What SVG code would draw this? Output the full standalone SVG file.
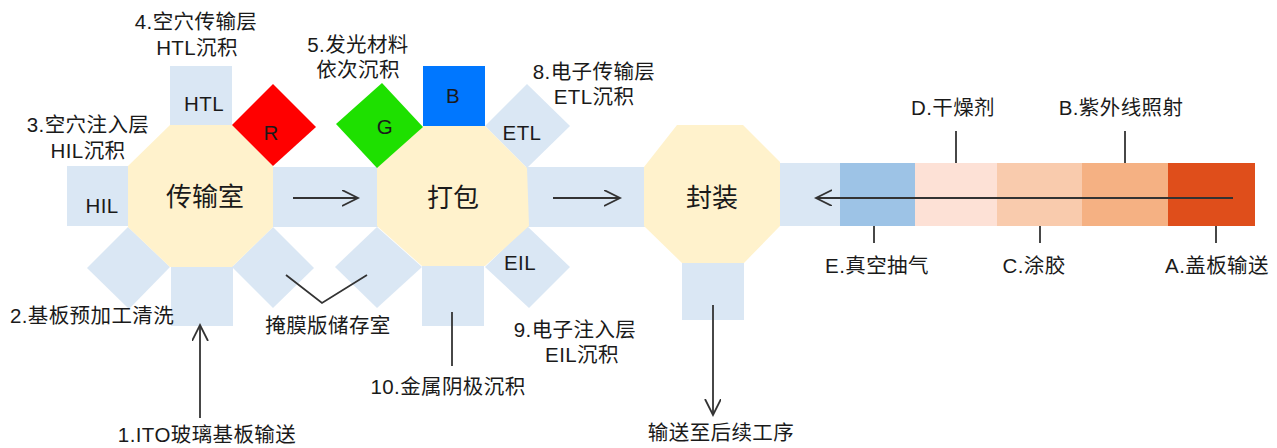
<svg xmlns="http://www.w3.org/2000/svg" width="1277" height="448" viewBox="0 0 1277 448">
<style>
.lb{fill:#dae7f4}
.oc{fill:#fff2cc}
text{font-family:"Liberation Sans","Noto Sans CJK SC",sans-serif;fill:#1a1a1a;dominant-baseline:central;text-anchor:middle}
.t{font-size:20.5px;letter-spacing:0.4px}
.big{font-size:26px}
.ln{stroke:#333;stroke-width:1.8;fill:none}
</style>
<defs>
<marker id="ah" markerWidth="20" markerHeight="20" refX="16" refY="8" orient="auto" markerUnits="userSpaceOnUse">
<path d="M0,0 L16,8 L0,16" fill="none" stroke="#333" stroke-width="1.8"/>
</marker>
</defs>
<rect width="1277" height="448" fill="#fff"/>

<g id="corridors">
<rect class="lb" x="265" y="167" width="120" height="60"/>
<rect class="lb" x="520" y="167" width="130" height="60"/>
</g>

<g id="node-HIL">
<rect class="lb" x="67" y="166" width="70" height="60"/>
<text class="t" x="102" y="205">HIL</text>
</g>
<g id="node-HTL">
<rect class="lb" x="170" y="66" width="62" height="64"/>
<text class="t" x="204" y="103">HTL</text>
</g>
<g id="node-clean">
<rect class="lb" x="171" y="260" width="62" height="66"/>
<polygon class="lb" points="128,227 87,268 129,309 170,267"/>
</g>
<g id="node-mask">
<polygon class="lb" points="232,267 273,227 314,268 273,308"/>
<polygon class="lb" points="377,227 335,267 377,308 422,267"/>
</g>
<g id="node-cathode">
<rect class="lb" x="422" y="260" width="62" height="66"/>
</g>
<g id="node-ETL">
<polygon class="lb" points="485,126 527,84 570,126 527,168"/>
<text class="t" x="522" y="132">ETL</text>
</g>
<g id="node-EIL">
<polygon class="lb" points="527,226 570,267 529,308 485,267"/>
<text class="t" x="520" y="262">EIL</text>
</g>
<g id="node-out">
<rect class="lb" x="682" y="256" width="62" height="64"/>
</g>

<g id="node-transfer">
<polygon class="oc" points="170,125 232,125 273,166 273,227 232,267 170,267 128,227 128,166"/>
<text class="big" x="205" y="197">传输室</text>
</g>
<g id="node-pack">
<polygon class="oc" points="423,126 485,126 527,168 529,226 485,266 422,266 377,226 377,168"/>
<text class="big" x="453" y="198">打包</text>
</g>
<g id="node-encap">
<polygon class="oc" points="677,125 743,125 780,162 780,226 744,263 682,263 644,226 644,167"/>
<text class="big" x="712" y="198">封装</text>
</g>

<g id="node-R">
<polygon fill="#ff0000" points="232,125 273,84 316,127 273,166"/>
<text class="t" x="271" y="132">R</text>
</g>
<g id="node-G">
<polygon fill="#1ee000" points="423,127 382,83 336,124 377,168"/>
<text class="t" x="385" y="126">G</text>
</g>
<g id="node-B">
<rect fill="#0077ff" x="423" y="66" width="62" height="60"/>
<text class="t" x="453" y="95">B</text>
</g>

<g id="node-strip">
<rect class="lb" x="780" y="163" width="61" height="63"/>
<rect fill="#9dc3e6" x="840" y="163" width="76" height="63"/>
<rect fill="#fde1d6" x="915" y="163" width="83" height="63"/>
<rect fill="#f9cbad" x="997" y="163" width="86" height="63"/>
<rect fill="#f5b183" x="1082" y="163" width="87" height="63"/>
<rect fill="#df4e1b" x="1168" y="163" width="87" height="63"/>
</g>

<g id="connectors">
<line class="ln" x1="293" y1="198" x2="358" y2="198" marker-end="url(#ah)"/>
<line class="ln" x1="553" y1="198" x2="620" y2="198" marker-end="url(#ah)"/>
<line class="ln" x1="1233" y1="198" x2="816" y2="198" marker-end="url(#ah)"/>
<line class="ln" x1="200" y1="418" x2="200" y2="325" marker-end="url(#ah)"/>
<line class="ln" x1="713" y1="305" x2="713" y2="415" marker-end="url(#ah)"/>
<line class="ln" x1="452" y1="312" x2="452" y2="366"/>
<polyline class="ln" points="286,275 322,303 367,275"/>
<line class="ln" x1="956" y1="131" x2="956" y2="163"/>
<line class="ln" x1="1125" y1="131" x2="1125" y2="163"/>
<line class="ln" x1="874" y1="226" x2="874" y2="243"/>
<line class="ln" x1="1040" y1="226" x2="1040" y2="243"/>
<line class="ln" x1="1216" y1="226" x2="1216" y2="243"/>
</g>

<g id="labels">
<text class="t" x="196" y="21">4.空穴传输层<tspan x="197" y="47">HTL沉积</tspan></text>
<text class="t" x="88" y="124">3.空穴注入层<tspan x="88" y="150">HIL沉积</tspan></text>
<text class="t" x="358" y="44">5.发光材料<tspan x="358" y="69">依次沉积</tspan></text>
<text class="t" x="594" y="71">8.电子传输层<tspan x="594" y="96">ETL沉积</tspan></text>
<text class="t" x="92" y="315">2.基板预加工清洗</text>
<text class="t" x="328" y="325">掩膜版储存室</text>
<text class="t" x="207" y="434">1.ITO玻璃基板输送</text>
<text class="t" x="448" y="386">10.金属阴极沉积</text>
<text class="t" x="575" y="329">9.电子注入层<tspan x="582" y="354">EIL沉积</tspan></text>
<text class="t" x="721" y="432">输送至后续工序</text>
<text class="t" x="953" y="107">D.干燥剂</text>
<text class="t" x="1121" y="107">B.紫外线照射</text>
<text class="t" x="877" y="265">E.真空抽气</text>
<text class="t" x="1034" y="265">C.涂胶</text>
<text class="t" x="1217" y="265">A.盖板输送</text>
</g>
</svg>
